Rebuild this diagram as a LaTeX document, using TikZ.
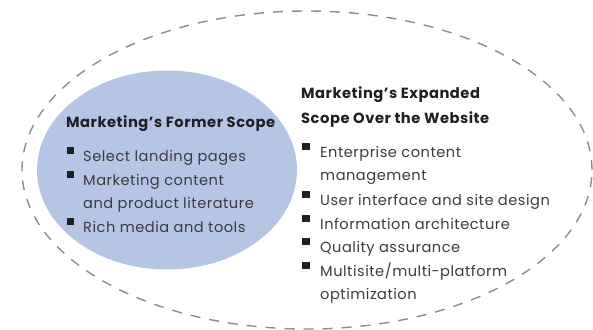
\documentclass[tikz,border=0pt]{standalone}
\usepackage{fontspec}
\usetikzlibrary{shapes.geometric}
\setmainfont{Poppins}[LetterSpace=3.5]
\definecolor{innerblue}{HTML}{B4C6E4}
\definecolor{dashgrey}{HTML}{8C8C8C}
\definecolor{itemgrey}{HTML}{3C3C3C}
\definecolor{headblack}{HTML}{202020}
\tikzset{
  outerring/.style={draw=dashgrey, line width=1.4pt, dash pattern=on 10pt off 9pt},
  innerblob/.style={fill=innerblue, draw=none},
  heading/.style={anchor=base west, inner sep=0pt, font=\fontsize{14.7}{24}\selectfont\bfseries, text=headblack},
  itemtext/.style={anchor=base west, inner sep=0pt, font=\fontsize{14.6}{23.5}\selectfont, text=itemgrey},
  bulletsq/.style={fill=headblack, minimum size=7.5pt, inner sep=0pt, draw=none}
}
\begin{document}
\begin{tikzpicture}[x=1pt,y=-1pt]
\useasboundingbox (0,0) rectangle (593,329);
\node[outerring, ellipse, minimum width=570pt, minimum height=318pt, inner sep=0pt] (outer) at (307,170) {};
\node[innerblob, ellipse, minimum width=260pt, minimum height=199pt, inner sep=0pt] (inner) at (167,170) {};
% former scope
\node[heading] (fh) at (66,127) {Marketing’s Former Scope};
\node[itemtext] (f1) at (83,161) {Select landing pages};
\node[itemtext] (f2a) at (83,185) {Marketing content};
\node[itemtext] (f2b) at (83,208) {and product literature};
\node[itemtext] (f3) at (83,232) {Rich media and tools};
\node[bulletsq] (fb1) at (70.5,150.5) {};
\node[bulletsq] (fb2) at (70.5,174.5) {};
\node[bulletsq] (fb3) at (70.5,221.5) {};
% expanded scope
\node[heading] (eh1) at (301,98) {Marketing’s Expanded};
\node[heading] (eh2) at (301,123) {Scope Over the Website};
\node[itemtext] (e1a) at (320,157) {Enterprise content};
\node[itemtext] (e1b) at (320,180) {management};
\node[itemtext] (e2) at (320,205) {User interface and site design};
\node[itemtext] (e3) at (320,229) {Information architecture};
\node[itemtext] (e4) at (320,252) {Quality assurance};
\node[itemtext] (e5a) at (320,276) {Multisite/multi-platform};
\node[itemtext] (e5b) at (320,299) {optimization};
\node[bulletsq] (eb1) at (306,146.5) {};
\node[bulletsq] (eb2) at (306,194.5) {};
\node[bulletsq] (eb3) at (306,218.5) {};
\node[bulletsq] (eb4) at (306,241.5) {};
\node[bulletsq] (eb5) at (306,265.5) {};
\end{tikzpicture}
\end{document}
